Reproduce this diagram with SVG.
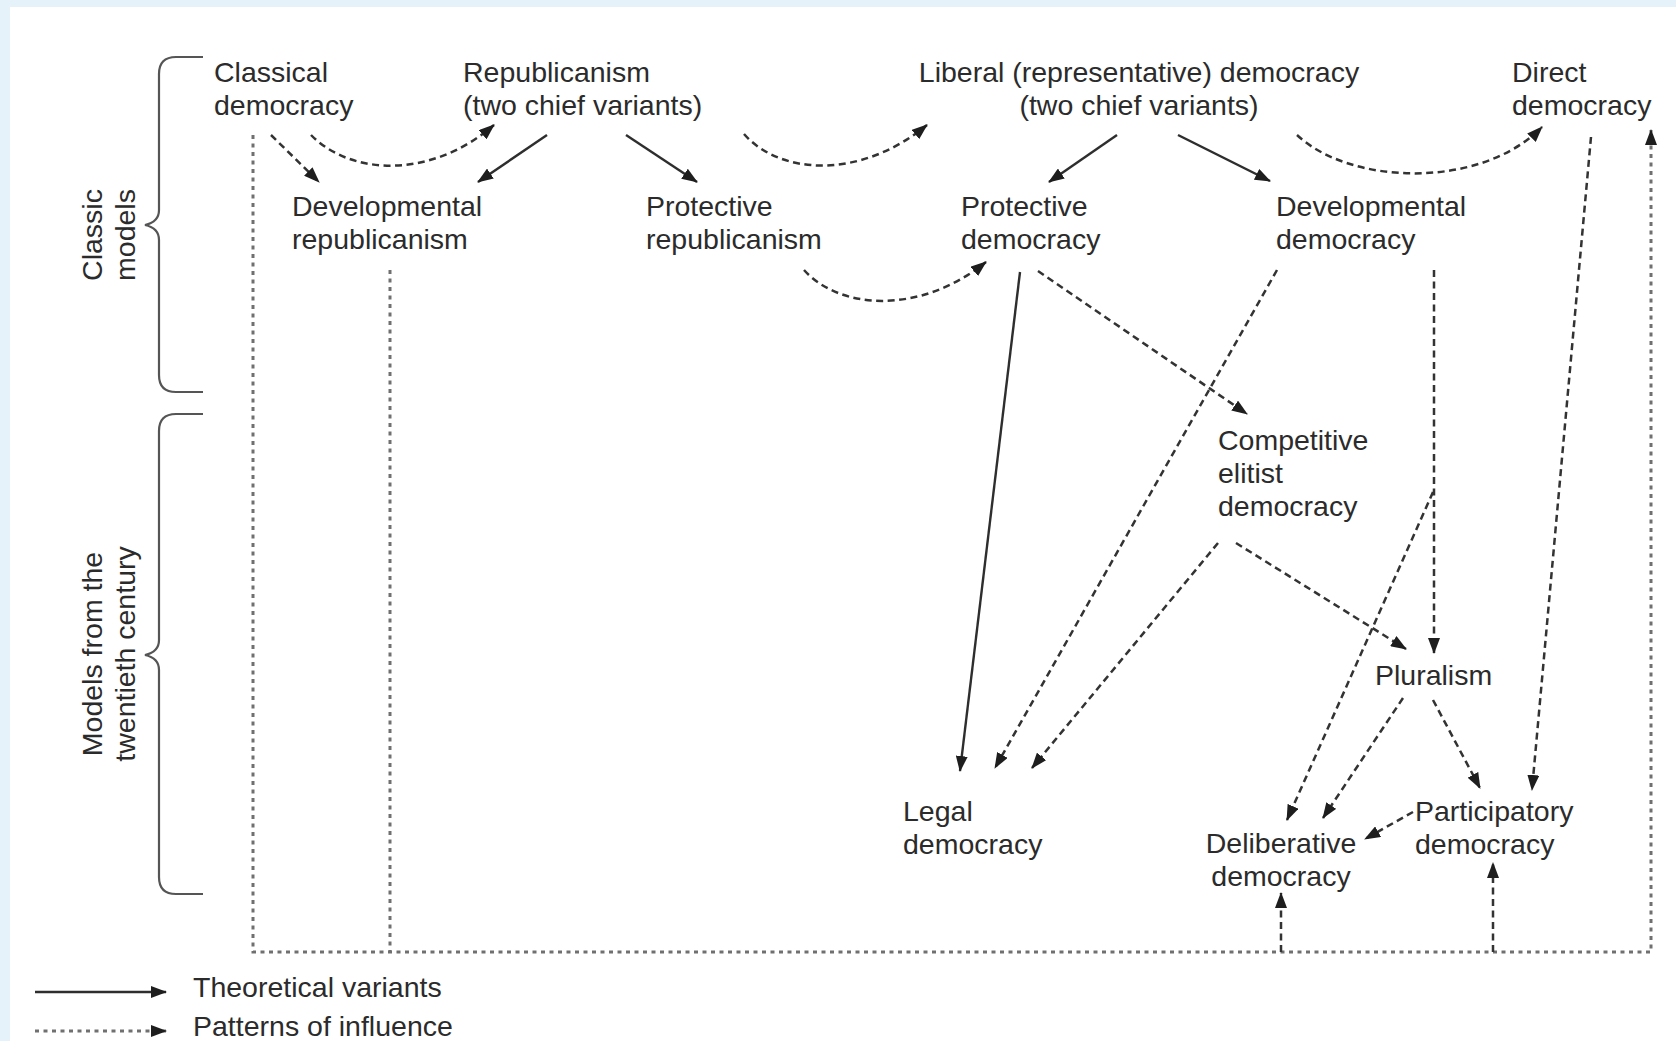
<svg xmlns="http://www.w3.org/2000/svg" width="1676" height="1041" viewBox="0 0 1676 1041">
<defs>
<style>
text{font-family:"Liberation Sans","Open Sans",Arial,sans-serif;font-size:28.5px;fill:#2b2b2b}
.solid{fill:none;stroke:#2e2e2e;stroke-width:2.4}
.dash{fill:none;stroke:#333;stroke-width:2.5;stroke-dasharray:7 4.5}
.dot{fill:none;stroke:#707070;stroke-width:3;stroke-dasharray:4 4.5}
.brace{fill:none;stroke:#555;stroke-width:2.2}
</style>
<marker id="ah" viewBox="0 0 16 12" markerUnits="userSpaceOnUse" markerWidth="16" markerHeight="12" refX="15" refY="6" orient="auto">
<path d="M0,0 L16,6 L0,12 z" fill="#1e1e1e"/>
</marker>
</defs>
<rect x="0" y="0" width="1676" height="1041" fill="#e5f2fa"/>
<rect x="10" y="7" width="1666" height="1034" fill="#ffffff"/>

<g id="braces">
<path class="brace" d="M203,57 L176,57 Q159,57 159,74 L159,210 Q159,222 145,225 Q159,228 159,240 L159,375 Q159,392 176,392 L203,392"/>
<path class="brace" d="M203,414 L176,414 Q159,414 159,431 L159,640 Q159,652 145,655 Q159,658 159,670 L159,877 Q159,894 176,894 L203,894"/>
</g>

<g id="side-labels">
<text transform="translate(102,235) rotate(-90)" text-anchor="middle"><tspan x="0" y="0">Classic</tspan><tspan x="0" y="33">models</tspan></text>
<text transform="translate(102,654) rotate(-90)" text-anchor="middle"><tspan x="0" y="0">Models from the</tspan><tspan x="0" y="33">twentieth century</tspan></text>
</g>

<g id="connectors">
<!-- frame -->
<path class="dot" d="M253,135 V952 H1651 V130" marker-end="url(#ah)"/>
<path class="dot" d="M390,270 V952"/>
<path class="dash" d="M1281,952 V893" marker-end="url(#ah)"/>
<path class="dash" d="M1493,952 V863" marker-end="url(#ah)"/>
<!-- classic models -->
<path class="dash" d="M271,135 L319,182" marker-end="url(#ah)"/>
<path class="dash" d="M311,135 C350,175 430,180 494,125" marker-end="url(#ah)"/>
<path class="solid" d="M547,135 L478,182" marker-end="url(#ah)"/>
<path class="solid" d="M626,135 L697,182" marker-end="url(#ah)"/>
<path class="dash" d="M744,134 C780,175 860,180 927,125" marker-end="url(#ah)"/>
<path class="dash" d="M804,270 C840,310 920,315 986,262" marker-end="url(#ah)"/>
<path class="solid" d="M1117,135 L1049,182" marker-end="url(#ah)"/>
<path class="solid" d="M1178,135 L1270,181" marker-end="url(#ah)"/>
<path class="dash" d="M1297,135 C1350,185 1480,190 1542,127" marker-end="url(#ah)"/>
<path class="dash" d="M1591,137 L1532,790" marker-end="url(#ah)"/>
<!-- twentieth century -->
<path class="solid" d="M1020,272 L960,771" marker-end="url(#ah)"/>
<path class="dash" d="M1038,271 L1247,414" marker-end="url(#ah)"/>
<path class="dash" d="M1277,270 L995,768" marker-end="url(#ah)"/>
<path class="dash" d="M1434,270 L1434,653" marker-end="url(#ah)"/>
<path class="dash" d="M1433,492 L1287,820" marker-end="url(#ah)"/>
<path class="dash" d="M1218,543 L1032,768" marker-end="url(#ah)"/>
<path class="dash" d="M1236,543 L1406,649" marker-end="url(#ah)"/>
<path class="dash" d="M1403,698 L1323,818" marker-end="url(#ah)"/>
<path class="dash" d="M1433,700 L1480,788" marker-end="url(#ah)"/>
<path class="dash" d="M1413,812 L1365,839" marker-end="url(#ah)"/>
</g>

<g id="classical-democracy"><text x="214" y="82">Classical<tspan x="214" dy="33">democracy</tspan></text></g>
<g id="republicanism"><text x="463" y="82">Republicanism<tspan x="463" dy="33">(two chief variants)</tspan></text></g>
<g id="liberal-democracy"><text x="1139" y="82" text-anchor="middle">Liberal (representative) democracy<tspan x="1139" dy="33">(two chief variants)</tspan></text></g>
<g id="direct-democracy"><text x="1512" y="82">Direct<tspan x="1512" dy="33">democracy</tspan></text></g>
<g id="developmental-republicanism"><text x="292" y="216">Developmental<tspan x="292" dy="33">republicanism</tspan></text></g>
<g id="protective-republicanism"><text x="646" y="216">Protective<tspan x="646" dy="33">republicanism</tspan></text></g>
<g id="protective-democracy"><text x="961" y="216">Protective<tspan x="961" dy="33">democracy</tspan></text></g>
<g id="developmental-democracy"><text x="1276" y="216">Developmental<tspan x="1276" dy="33">democracy</tspan></text></g>
<g id="competitive-elitist-democracy"><text x="1218" y="450">Competitive<tspan x="1218" dy="33">elitist</tspan><tspan x="1218" dy="33">democracy</tspan></text></g>
<g id="pluralism"><text x="1375" y="685">Pluralism</text></g>
<g id="legal-democracy"><text x="903" y="821">Legal<tspan x="903" dy="33">democracy</tspan></text></g>
<g id="deliberative-democracy"><text x="1281" y="853" text-anchor="middle">Deliberative<tspan x="1281" dy="33">democracy</tspan></text></g>
<g id="participatory-democracy"><text x="1415" y="821">Participatory<tspan x="1415" dy="33">democracy</tspan></text></g>

<g id="legend">
<path class="solid" d="M35,992 L166,992" marker-end="url(#ah)"/>
<path class="dot" d="M35,1031 L166,1031" marker-end="url(#ah)"/>
<text x="193" y="997">Theoretical variants</text>
<text x="193" y="1036">Patterns of influence</text>
</g>
</svg>
